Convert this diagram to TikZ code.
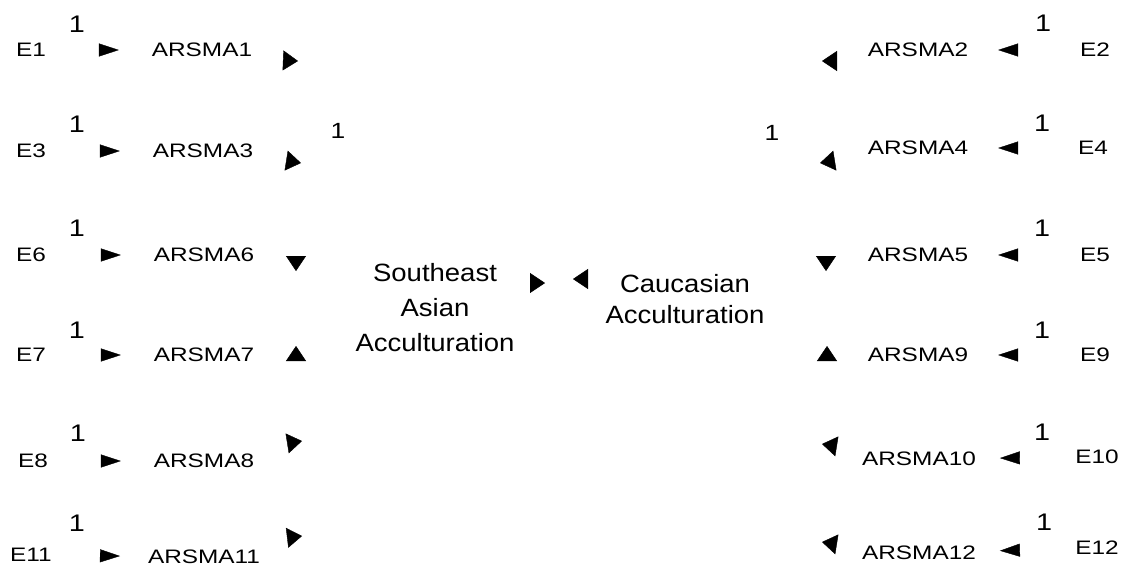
\documentclass[tikz,border=0pt]{standalone}
\usepackage{fontspec}
\usetikzlibrary{arrows.meta,backgrounds}
\newfontfamily\labfont[FakeStretch=1.25]{Liberation Sans}
\newfontfamily\facfont[FakeStretch=1.1]{Liberation Sans}
\newfontfamily\onefont[FakeStretch=1.2]{Liberation Sans}
\tikzset{
  lab/.style={font=\labfont\fontsize{19.5}{22}\selectfont, inner sep=0pt, outer sep=0pt},
  one/.style={font=\onefont\fontsize{24}{26}\selectfont, inner sep=0pt},
  fac/.style={font=\facfont\fontsize{25}{35}\selectfont, inner sep=0pt, align=center},
  etip/.style={draw=white, -{Triangle[length=20pt,width=13pt,color=black]}},
  btip/.style={draw=white, -{Triangle[length=15pt,width=20pt,color=black]}},
  lefte/.style={etip, shorten >=33pt},
  righte/.style={etip, shorten >=30pt}
}
\begin{document}
\begin{tikzpicture}[x=1pt,y=-1pt]
\useasboundingbox (0,0) rectangle (1130,571);
% left indicators
\node[lab] (E1) at (31,50) {E1};
\node[lab] (A1) at (202,50) {ARSMA1};
\node[one] (o1) at (77,24) {1};
\node[lab] (E3) at (31,151) {E3};
\node[lab] (A3) at (203,151) {ARSMA3};
\node[one] (o3) at (77,124) {1};
\node[lab] (E6) at (31,255) {E6};
\node[lab] (A6) at (204,255) {ARSMA6};
\node[one] (o6) at (77,228) {1};
\node[lab] (E7) at (31,355) {E7};
\node[lab] (A7) at (204,355) {ARSMA7};
\node[one] (o7) at (77,330) {1};
\node[lab] (E8) at (33,461) {E8};
\node[lab] (A8) at (204,461) {ARSMA8};
\node[one] (o8) at (78,433) {1};
\node[lab] (E11) at (31,555) {E11};
\node[lab] (A11) at (204,557) {ARSMA11};
\node[one] (o11) at (77,523) {1};
% right indicators
\node[lab] (E2) at (1095,50) {E2};
\node[lab] (A2) at (918,50) {ARSMA2};
\node[one] (o2) at (1043,23) {1};
\node[lab] (E4) at (1093,148) {E4};
\node[lab] (A4) at (918,148) {ARSMA4};
\node[one] (o4) at (1042,123) {1};
\node[lab] (E5) at (1095,255) {E5};
\node[lab] (A5) at (918,255) {ARSMA5};
\node[one] (o5) at (1042,228) {1};
\node[lab] (E9) at (1095,355) {E9};
\node[lab] (A9) at (918,355) {ARSMA9};
\node[one] (o9) at (1042,330) {1};
\node[lab] (E10) at (1097,457) {E10};
\node[lab] (A10) at (919,459) {ARSMA10};
\node[one] (o10) at (1042,432) {1};
\node[lab] (E12) at (1097,548) {E12};
\node[lab] (A12) at (919,553) {ARSMA12};
\node[one] (o12) at (1044,522) {1};
% factors
\node[fac, anchor=north] (SEA) at (435,263) {Southeast\\Asian\\Acculturation};
\node[fac, anchor=north, font=\facfont\fontsize{25}{31}\selectfont] (CAU) at (685,274) {Caucasian\\Acculturation};
\node[one, font=\onefont\fontsize{22}{24}\selectfont] (fl1) at (338,131) {1};
\node[one, font=\onefont\fontsize{22}{24}\selectfont] (fl2) at (772,133) {1};
% arrowhead tips (h) and free tails (g)
\coordinate (hL1) at (298,61);  \coordinate (gL1) at (272,60);
\coordinate (hL2) at (301,163); \coordinate (gL2) at (276,159);
\coordinate (hL3) at (296,271); \coordinate (gL3) at (296,246);
\coordinate (hL4) at (296,346); \coordinate (gL4) at (296,371);
\coordinate (hL5) at (302,441); \coordinate (gL5) at (277,445);
\coordinate (hL6) at (302,536); \coordinate (gL6) at (277,539);
\coordinate (hC1) at (545,283); \coordinate (gC1) at (520,283);
\coordinate (hC2) at (573,279); \coordinate (gC2) at (598,279);
\coordinate (hR1) at (822,61);  \coordinate (gR1) at (847,61);
\coordinate (hR2) at (820,163); \coordinate (gR2) at (845,159);
\coordinate (hR3) at (826,271); \coordinate (gR3) at (826,246);
\coordinate (hR4) at (827,346); \coordinate (gR4) at (827,371);
\coordinate (hR5) at (822,444); \coordinate (gR5) at (847,448);
\coordinate (hR6) at (822,542); \coordinate (gR6) at (847,546);
\begin{scope}[on background layer]
\draw[lefte] (E1) -- (A1);
\draw[lefte] (E3) -- (A3);
\draw[lefte] (E6) -- (A6);
\draw[lefte] (E7) -- (A7);
\draw[lefte] (E8) -- (A8);
\draw[etip, shorten >=28pt] (E11) -- (A11);
\draw[righte] (E2) -- (A2);
\draw[righte] (E4) -- (A4);
\draw[righte] (E5) -- (A5);
\draw[righte] (E9) -- (A9);
\draw[etip, shorten >=24pt] (E10) -- (A10);
\draw[etip, shorten >=24pt] (E12) -- (A12);
\foreach \i in {L1,L2,L3,L4,L5,L6,C1,C2,R1,R2,R3,R4,R5,R6}
  \draw[btip] (g\i) -- (h\i);
\end{scope}
\end{tikzpicture}
\end{document}
